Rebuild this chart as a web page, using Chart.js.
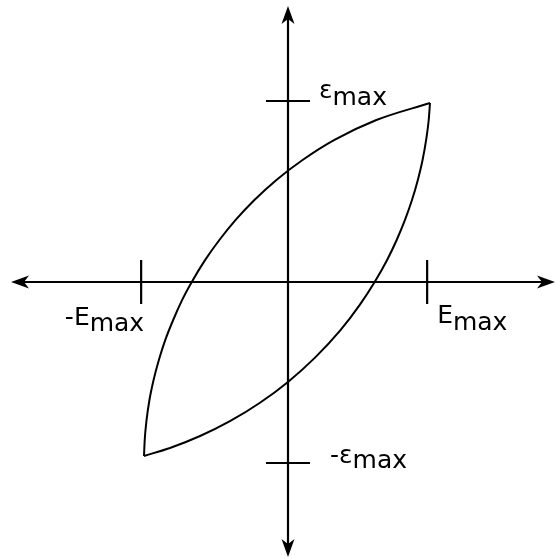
<!DOCTYPE html>
<html>
<head>
<meta charset="utf-8">
<script src="https://cdn.jsdelivr.net/npm/chart.js@4"></script>
<style>
  html, body { margin: 0; padding: 0; background: #fff; }
  #wrap { width: 555px; height: 559px; }
</style>
</head>
<body>
<div id="wrap"><canvas id="grafico"></canvas></div>
<script>
// rama de subida (E creciente) y rama de bajada del lazo, en unidades de E y ε
const ramaSuperiorE = [-1.007, -1.002, -0.989, -0.969, -0.940, -0.903, -0.858, -0.803, -0.740, -0.673, -0.579, -0.480, -0.366, -0.235, -0.081, 0.102, 0.325, 0.618, 0.993];
const ramaSuperiorS = [-0.961, -0.873, -0.762, -0.652, -0.541, -0.431, -0.320, -0.210, -0.099, 0.000, 0.122, 0.232, 0.343, 0.453, 0.564, 0.674, 0.785, 0.895, 0.989];
const ramaInferiorE = [-1.007, -0.825, -0.615, -0.406, -0.196, 0.000, 0.189, 0.364, 0.503, 0.606, 0.693, 0.760, 0.818, 0.867, 0.908, 0.941, 0.966, 0.984, 0.993];
const ramaInferiorS = [-0.961, -0.917, -0.851, -0.769, -0.667, -0.552, -0.418, -0.269, -0.125, 0.000, 0.122, 0.232, 0.343, 0.453, 0.564, 0.674, 0.785, 0.895, 0.989];

// marcas de los ejes
const marcasE = [-1.027, 0.973];
const etiquetasE = ['-E', 'E'];
const marcasS = [1.0, -1.0];
const etiquetasS = ['ε', '-ε'];
const subindice = 'max';

// extremos de los ejes (donde van las flechas)
const ejeE = [-1.937, 1.867];
const ejeS = [1.525, -1.519];

function puntos(xs, ys){
    const lista = [];
    for (let i = 0; i < xs.length; i++) {
        lista.push({x: xs[i], y: ys[i]});
    }
    return lista;
}

function flecha(ctx, x, y, dx, dy){
    const largo = 18, ancho = 6.5, muesca = 5;
    const px = -dy, py = dx;
    ctx.beginPath();
    ctx.moveTo(x, y);
    ctx.lineTo(x - dx*largo + px*ancho, y - dy*largo + py*ancho);
    ctx.lineTo(x - dx*(largo - muesca), y - dy*(largo - muesca));
    ctx.lineTo(x - dx*largo - px*ancho, y - dy*largo - py*ancho);
    ctx.closePath();
    ctx.fill();
}

function texto(ctx, base, sub, x, y, alinear, bajada){
    ctx.font = '25px "DejaVu Sans"';
    const w1 = ctx.measureText(base).width;
    const w2 = ctx.measureText(sub).width;
    let x0 = alinear === 'right' ? x - w1 - w2 : x;
    ctx.textAlign = 'left';
    ctx.textBaseline = 'alphabetic';
    ctx.fillText(base, x0, y);
    ctx.fillText(sub, x0 + w1, y + bajada);
}

const ejes = {
    id: 'ejes',
    afterDatasetsDraw(chart){
        const ctx = chart.ctx;
        const sx = chart.scales.x, sy = chart.scales.y;
        const x0 = sx.getPixelForValue(0), y0 = sy.getPixelForValue(0);
        const izq = sx.getPixelForValue(ejeE[0]), der = sx.getPixelForValue(ejeE[1]);
        const arr = sy.getPixelForValue(ejeS[0]), aba = sy.getPixelForValue(ejeS[1]);
        ctx.save();
        ctx.strokeStyle = '#000';
        ctx.fillStyle = '#000';
        ctx.lineWidth = 2.2;
        ctx.beginPath();
        ctx.moveTo(izq + 10, y0); ctx.lineTo(der - 10, y0);
        ctx.moveTo(x0, arr + 10); ctx.lineTo(x0, aba - 10);
        ctx.stroke();
        flecha(ctx, izq, y0, -1, 0);
        flecha(ctx, der, y0, 1, 0);
        flecha(ctx, x0, arr, 0, -1);
        flecha(ctx, x0, aba, 0, 1);

        // rayitas
        ctx.beginPath();
        marcasE.forEach(v => {
            const px = sx.getPixelForValue(v);
            ctx.moveTo(px, y0 - 22); ctx.lineTo(px, y0 + 22);
        });
        marcasS.forEach(v => {
            const py = sy.getPixelForValue(v);
            ctx.moveTo(x0 - 22, py); ctx.lineTo(x0 + 22, py);
        });
        ctx.stroke();

        // etiquetas
        const pE0 = sx.getPixelForValue(marcasE[0]);
        const pE1 = sx.getPixelForValue(marcasE[1]);
        texto(ctx, etiquetasE[0], subindice, pE0 + 3, y0 + 43, 'right', 6);
        texto(ctx, etiquetasE[1], subindice, pE1 + 10, y0 + 41, 'left', 7);
        const pS0 = sy.getPixelForValue(marcasS[0]);
        const pS1 = sy.getPixelForValue(marcasS[1]);
        texto(ctx, etiquetasS[0], subindice, x0 + 31, pS0 - 3, 'left', 7);
        texto(ctx, etiquetasS[1], subindice, x0 + 42, pS1, 'left', 5);
        ctx.restore();
    }
};

new Chart('grafico', {
    type: 'scatter',
    data: {
        datasets: [{
            data: puntos(ramaSuperiorE, ramaSuperiorS),
            showLine: true,
            borderColor: '#000',
            borderWidth: 2,
            pointRadius: 0,
            cubicInterpolationMode: 'monotone'
        },{
            data: puntos(ramaInferiorE, ramaInferiorS),
            showLine: true,
            borderColor: '#000',
            borderWidth: 2,
            pointRadius: 0,
            cubicInterpolationMode: 'monotone'
        }]
    },
    options: {
        responsive: true,
        maintainAspectRatio: false,
        animation: false,
        layout: {padding: 0},
        plugins: {legend: {display: false}, tooltip: {enabled: false}},
        scales: {
            x: {type: 'linear', display: false, min: -288/143, max: 267/143},
            y: {type: 'linear', display: false, min: -277/181, max: 282/181}
        }
    },
    plugins: [ejes]
});
</script>
</body>
</html>
